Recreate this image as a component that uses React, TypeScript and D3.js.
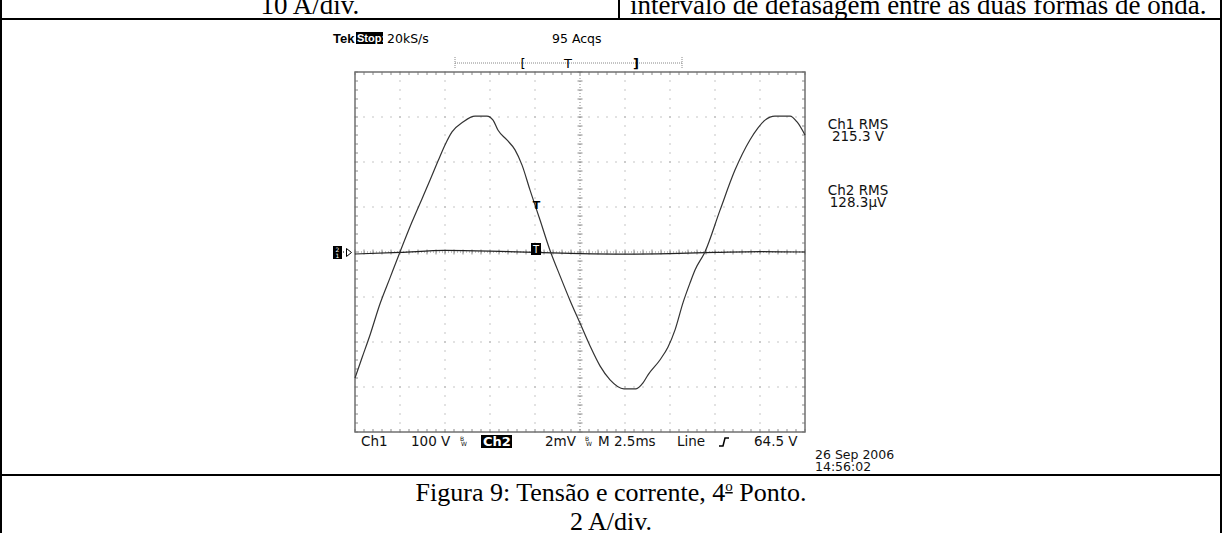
import React from 'react'
import * as d3 from 'd3'

// Ch1 (voltage) trace: time in ms, volts
const ch1Time = [0, 0.39, 0.83, 1.39, 1.94, 2.5, 3.17, 3.72, 4.17, 4.61, 5.0, 5.39, 6.0, 6.67, 7.33, 7.67, 7.94, 8.44, 8.89, 9.28, 9.72, 10.28, 10.83, 11.39, 11.94, 12.5, 13.06, 13.61, 14.17, 14.94, 15.61, 16.0, 16.28, 16.94, 17.39, 17.78, 18.22, 18.61, 18.89, 19.44, 20.28, 21.11, 21.94, 22.39, 22.78, 23.33, 24.17, 24.56, 25.0]
const ch1Volts = [-280, -235, -185, -115, -58, 0, 67, 118, 160, 202, 238, 267, 289, 302, 302, 293, 271, 249, 227, 193, 138, 71, 4, -53, -107, -158, -209, -253, -284, -304, -304, -291, -273, -240, -211, -173, -113, -69, -40, 0, 93, 182, 249, 276, 293, 302, 302, 289, 260]

// Ch2 (current probe) trace, ms and mV
const ch2Time = [0, 2.5, 5, 7.5, 10, 12.5, 15, 17.5, 20, 22.5, 25]
const ch2mV = [-0.09, -0.02, 0.07, 0.04, -0.02, -0.07, -0.09, -0.07, -0.02, 0.02, 0]

const bottomLabels = [
  { text: 'Ch1', x: 361 },
  { text: '100 V', x: 411 },
  { text: '2mV', x: 545 },
  { text: 'M 2.5ms', x: 598 },
  { text: 'Line', x: 677 },
  { text: '64.5 V', x: 754 },
]

const W = 1222
const H = 533
const scopeFont = 'DejaVu Sans'
const serif = 'Liberation Serif'

export default function App() {
  // screen grid is 10 x 8 divisions
  const gx = d3.scaleLinear().domain([0, 10]).range([355, 805])
  const gy = d3.scaleLinear().domain([-4, 4]).range([432, 72])
  const x = d3.scaleLinear().domain([0, 25]).range([355, 805])
  const y1 = d3.scaleLinear().domain([-400, 400]).range([432, 72])
  const y2 = d3.scaleLinear().domain([-8, 8]).range([432, 72])

  const line1 = d3.line<number>()
    .x((d, i) => x(ch1Time[i]))
    .y(d => y1(d))
    .curve(d3.curveMonotoneX)
  const line2 = d3.line<number>()
    .x((d, i) => x(ch2Time[i]))
    .y(d => y2(d))
    .curve(d3.curveMonotoneX)

  const minorX = d3.range(0, 50.5).map(i => i / 5)
  const minorY = d3.range(0, 40.5).map(i => -4 + i / 5)
  const dots: JSX.Element[] = []
  d3.range(1, 10).forEach(i => {
    if (i === 5) return
    minorY.forEach((v, k) => dots.push(<rect key={`v${i}-${k}`} x={gx(i) - 0.5} y={gy(v) - 0.5} width={1} height={1} fill="#8a8a8a" />))
  })
  d3.range(-3, 4).forEach(j => {
    if (j === 0) return
    minorX.forEach((v, k) => dots.push(<rect key={`h${j}-${k}`} x={gx(v) - 0.5} y={gy(j) - 0.5} width={1} height={1} fill="#8a8a8a" />))
  })

  const ticks: JSX.Element[] = []
  minorX.forEach((v, k) => {
    const px = gx(v)
    ticks.push(<line key={`tt${k}`} x1={px} x2={px} y1={72} y2={75} />)
    ticks.push(<line key={`tb${k}`} x1={px} x2={px} y1={429} y2={432} />)
    ticks.push(<line key={`tc${k}`} x1={px} x2={px} y1={gy(0) - 2.5} y2={gy(0) + 2.5} />)
  })
  minorY.forEach((v, k) => {
    const py = gy(v)
    ticks.push(<line key={`tl${k}`} x1={355} x2={358} y1={py} y2={py} />)
    ticks.push(<line key={`tr${k}`} x1={802} x2={805} y1={py} y2={py} />)
    ticks.push(<line key={`tm${k}`} x1={gx(5) - 2.5} x2={gx(5) + 2.5} y1={py} y2={py} />)
  })

  return (
    <svg width={W} height={H} style={{ position: 'absolute', left: 0, top: 0, background: '#fff' }}>
      {/* surrounding document table */}
      <g stroke="#000" strokeWidth={2}>
        <line x1={0} x2={W} y1={19} y2={19} />
        <line x1={0} x2={W} y1={475} y2={475} />
        <line x1={1} x2={1} y1={0} y2={H} />
        <line x1={1221} x2={1221} y1={0} y2={H} />
        <line x1={619} x2={619} y1={0} y2={19} />
      </g>
      <text x={310} y={14} fontFamily={serif} fontSize={27} textAnchor="middle">10 A/div.</text>
      <text x={630} y={14} fontFamily={serif} fontSize={27}>intervalo de defasagem entre as duas formas de onda.</text>
      <text x={611} y={501} fontFamily={serif} fontSize={26} textAnchor="middle">
        Figura 9: Tensão e corrente, 4<tspan dy={-10} fontSize={15} textDecoration="underline">o</tspan><tspan dy={10}> Ponto.</tspan>
      </text>
      <text x={611} y={530} fontFamily={serif} fontSize={26} textAnchor="middle">2 A/div.</text>

      {/* scope header */}
      <text x={333} y={43} fontFamily="Liberation Sans" fontWeight="bold" fontSize={13}>Tek</text>
      <rect x={356} y={32} width={27} height={12} fill="#000" />
      <text x={357} y={42} fontFamily="Liberation Sans" fontWeight="bold" fontSize={11} fill="#fff">Stop:</text>
      <text x={387} y={43} fontFamily={scopeFont} fontSize={12.5}>20kS/s</text>
      <text x={552} y={43} fontFamily={scopeFont} fontSize={12.5}>95 Acqs</text>
      <g stroke="#888" strokeWidth={1}>
        <line x1={455} x2={682} y1={63} y2={63} strokeDasharray="1 1" />
        <line x1={455} x2={455} y1={57} y2={69} strokeDasharray="1 1" />
        <line x1={682} x2={682} y1={57} y2={69} strokeDasharray="1 1" />
      </g>
      <text x={523} y={68} fontFamily={scopeFont} fontSize={13} textAnchor="middle">[</text>
      <text x={568} y={68} fontFamily={scopeFont} fontSize={13} textAnchor="middle">T</text>
      <text x={636} y={68} fontFamily={scopeFont} fontSize={13} fontWeight="bold" textAnchor="middle">]</text>

      {/* graticule */}
      {dots}
      <g stroke="#8a8a8a" strokeWidth={1}>
        {ticks}
        <line x1={gx(5)} x2={gx(5)} y1={72} y2={432} strokeDasharray="1 2" />
        <line x1={355} x2={805} y1={gy(0)} y2={gy(0)} strokeDasharray="1 2" />
      </g>
      <rect x={355} y={72} width={450} height={360} fill="none" stroke="#707070" strokeWidth={1.5} />

      {/* traces */}
      <path d={line2(ch2mV) || ''} fill="none" stroke="#222" strokeWidth={1.2} />
      <path d={line1(ch1Volts) || ''} fill="none" stroke="#333" strokeWidth={1.2} />

      {/* channel / trigger markers */}
      <rect x={333} y={246} width={9} height={13} fill="#000" />
      <text x={337.5} y={252} fontFamily={scopeFont} fontSize={6} fill="#fff" textAnchor="middle">2</text>
      <text x={337.5} y={258} fontFamily={scopeFont} fontSize={6} fill="#fff" textAnchor="middle">1</text>
      <rect x={343} y={251.5} width={1} height={1} fill="#000" />
      <path d="M346.5,248.5 L351.5,252.5 L346.5,256.5 Z" fill="none" stroke="#000" strokeWidth={1} />
      <text x={536.5} y={209} fontFamily={scopeFont} fontSize={11} fontWeight="bold" textAnchor="middle">T</text>
      <rect x={531} y={243} width={10} height={12} fill="#000" />
      <text x={536} y={253} fontFamily={scopeFont} fontSize={10} fill="#fff" textAnchor="middle">T</text>

      {/* readouts */}
      <g fontFamily={scopeFont} fontSize={13.5} textAnchor="middle" fill="#111">
        <text x={858} y={129}>Ch1 RMS</text>
        <text x={858} y={141}>215.3 V</text>
        <text x={858} y={195}>Ch2 RMS</text>
        <text x={858} y={207}>128.3µV</text>
      </g>
      <g fontFamily={scopeFont} fontSize={13.5} fill="#111">
        {bottomLabels.map(l => <text key={l.text} x={l.x} y={446}>{l.text}</text>)}
      </g>
      <g fontFamily={scopeFont} fontSize={12.5} fill="#111">
        <text x={815} y={459}>26 Sep 2006</text>
        <text x={815} y={471}>14:56:02</text>
      </g>
      <rect x={481} y={435} width={31} height={13} fill="#000" />
      <text x={483} y={446} fontFamily={scopeFont} fontSize={13} fontWeight="bold" fill="#fff">Ch2</text>
      <g fontFamily={scopeFont} fontSize={6} fill="#111">
        <text x={460} y={441}>B</text>
        <text x={461} y={446}>W</text>
        <text x={585} y={441}>B</text>
        <text x={586} y={446}>W</text>
      </g>
      <path d="M719,446 L723,446 L725,438 L729,438" fill="none" stroke="#000" strokeWidth={1.5} />
    </svg>
  )
}
